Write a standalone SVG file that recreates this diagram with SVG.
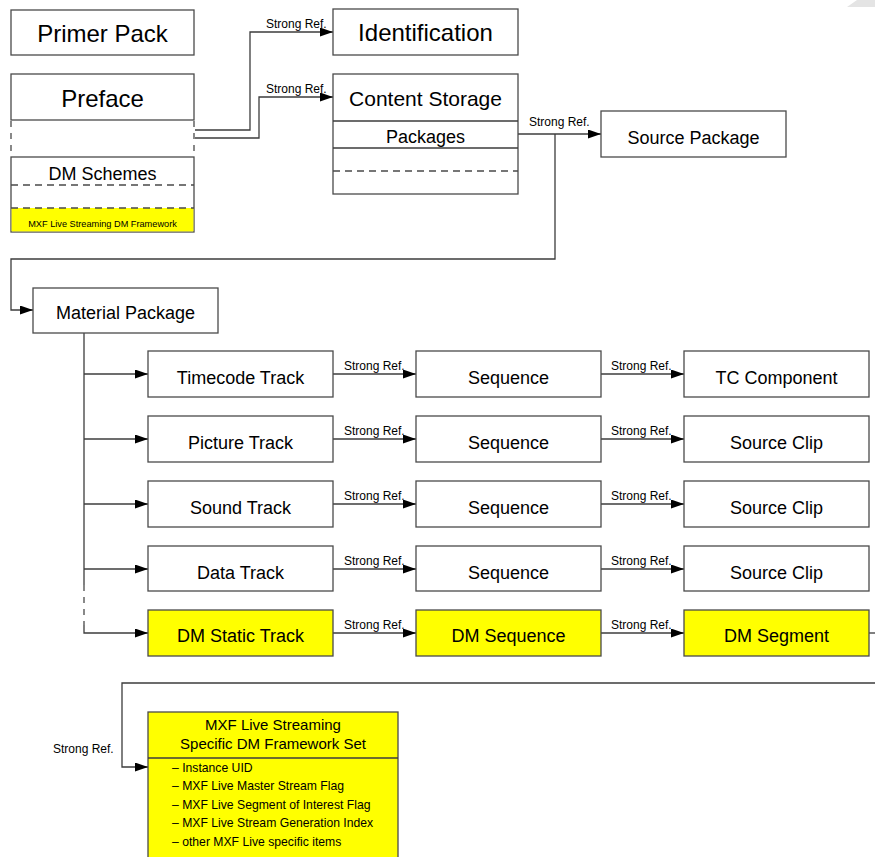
<svg xmlns="http://www.w3.org/2000/svg" width="875" height="857" viewBox="0 0 875 857">
<style>
text{font-family:"Liberation Sans",Arial,Helvetica,sans-serif;fill:#000}
.box{fill:#fff;stroke:#4a4a4a;stroke-width:1.3}
.y{fill:#ffff00}
.ln{fill:none;stroke:#3c3c3c;stroke-width:1.3}
.dash{fill:none;stroke:#4a4a4a;stroke-width:1.3;stroke-dasharray:7 5}
.arr{marker-end:url(#ah)}
.big{font-size:24px;text-anchor:middle}
.mid{font-size:18px;text-anchor:middle}
.ref{font-size:12px}
.item{font-size:12.2px}
</style>
<defs>
<marker id="ah" markerUnits="userSpaceOnUse" markerWidth="14" markerHeight="10" refX="13" refY="4.5" orient="auto">
<path d="M0,0 L13,4.5 L0,9 z" fill="#000"/>
</marker>
</defs>
<polygon points="857,0 875,0 875,7 847,7" fill="#e4e4e4"/>

<g id="connectors">
<path class="ln arr" d="M195,130 H250 V32 H333"/>
<path class="ln arr" d="M195,138 H259 V97 H333"/>
<path class="ln arr" d="M518,134 H601"/>
<path class="ln arr" d="M555,134 V259 H11 V310 H33"/>
<path class="ln" d="M84,333 V585"/>
<path class="dash" d="M84,585 V625" style="stroke-dasharray:6 6"/>
<path class="ln arr" d="M84,625 V633 H148"/>
<path class="ln arr" d="M84,374 H148"/>
<path class="ln arr" d="M84,439 H148"/>
<path class="ln arr" d="M84,504 H148"/>
<path class="ln arr" d="M84,569 H148"/>
<path class="ln arr" d="M333,374 H416"/>
<path class="ln arr" d="M601,374 H684"/>
<path class="ln arr" d="M333,439 H416"/>
<path class="ln arr" d="M601,439 H684"/>
<path class="ln arr" d="M333,504 H416"/>
<path class="ln arr" d="M601,504 H684"/>
<path class="ln arr" d="M333,569 H416"/>
<path class="ln arr" d="M601,569 H684"/>
<path class="ln arr" d="M333,633 H416"/>
<path class="ln arr" d="M601,633 H684"/>
<path class="ln" d="M869,633 H875"/>
<path class="ln arr" d="M875,683 H122 V767 H148"/>
<text class="ref" x="266" y="28">Strong Ref.</text>
<text class="ref" x="266" y="93">Strong Ref.</text>
<text class="ref" x="529" y="126">Strong Ref.</text>
<text class="ref" x="344" y="370">Strong Ref.</text>
<text class="ref" x="611" y="370">Strong Ref.</text>
<text class="ref" x="344" y="435">Strong Ref.</text>
<text class="ref" x="611" y="435">Strong Ref.</text>
<text class="ref" x="344" y="500">Strong Ref.</text>
<text class="ref" x="611" y="500">Strong Ref.</text>
<text class="ref" x="344" y="565">Strong Ref.</text>
<text class="ref" x="611" y="565">Strong Ref.</text>
<text class="ref" x="344" y="629">Strong Ref.</text>
<text class="ref" x="611" y="629">Strong Ref.</text>
<text class="ref" x="53" y="753">Strong Ref.</text>
</g>

<g id="primer-pack">
<rect class="box" x="11" y="10" width="183" height="45"/>
<text class="big" x="102.5" y="42">Primer Pack</text>
</g>

<g id="preface">
<rect class="box" x="11" y="74" width="183" height="46"/>
<text class="big" x="102.5" y="107">Preface</text>
<path class="dash" d="M11,121 V157 M194,121 V157" style="stroke-dasharray:6 6"/>
<rect class="box" x="11" y="157" width="183" height="75"/>
<rect class="y" x="11.6" y="208" width="181.8" height="23.4"/>
<path class="dash" d="M11,185 H194 M11,208 H194"/>
<text class="mid" x="102.5" y="180">DM Schemes</text>
<text x="102.5" y="227" style="font-size:9.2px;text-anchor:middle">MXF Live Streaming DM Framework</text>
</g>

<g id="identification">
<rect class="box" x="333" y="9" width="185" height="46"/>
<text class="big" x="425.5" y="41">Identification</text>
</g>

<g id="content-storage">
<rect class="box" x="333" y="74" width="185" height="120"/>
<path class="ln" d="M333,121 H518 M333,148 H518"/>
<path class="dash" d="M333,171 H518"/>
<text x="425.5" y="106" style="font-size:21px;text-anchor:middle">Content Storage</text>
<text class="mid" x="425.5" y="143">Packages</text>
</g>

<g id="source-package">
<rect class="box" x="601" y="111" width="185" height="46"/>
<text class="mid" x="693.5" y="144">Source Package</text>
</g>

<g id="material-package">
<rect class="box" x="33" y="288" width="185" height="45"/>
<text class="mid" x="125.5" y="319">Material Package</text>
</g>

<g id="timecode-track"><rect class="box" x="148" y="351" width="185" height="46"/><text class="mid" x="240.5" y="384">Timecode Track</text></g>
<g id="sequence-1"><rect class="box" x="416" y="351" width="185" height="46"/><text class="mid" x="508.5" y="384">Sequence</text></g>
<g id="tc-component"><rect class="box" x="684" y="351" width="185" height="46"/><text class="mid" x="776.5" y="384">TC Component</text></g>

<g id="picture-track"><rect class="box" x="148" y="416" width="185" height="46"/><text class="mid" x="240.5" y="449">Picture Track</text></g>
<g id="sequence-2"><rect class="box" x="416" y="416" width="185" height="46"/><text class="mid" x="508.5" y="449">Sequence</text></g>
<g id="source-clip-1"><rect class="box" x="684" y="416" width="185" height="46"/><text class="mid" x="776.5" y="449">Source Clip</text></g>

<g id="sound-track"><rect class="box" x="148" y="481" width="185" height="46"/><text class="mid" x="240.5" y="514">Sound Track</text></g>
<g id="sequence-3"><rect class="box" x="416" y="481" width="185" height="46"/><text class="mid" x="508.5" y="514">Sequence</text></g>
<g id="source-clip-2"><rect class="box" x="684" y="481" width="185" height="46"/><text class="mid" x="776.5" y="514">Source Clip</text></g>

<g id="data-track"><rect class="box" x="148" y="546" width="185" height="45"/><text class="mid" x="240.5" y="579">Data Track</text></g>
<g id="sequence-4"><rect class="box" x="416" y="546" width="185" height="45"/><text class="mid" x="508.5" y="579">Sequence</text></g>
<g id="source-clip-3"><rect class="box" x="684" y="546" width="185" height="45"/><text class="mid" x="776.5" y="579">Source Clip</text></g>

<g id="dm-static-track"><rect class="box y" x="148" y="610" width="185" height="46" style="fill:#ffff00"/><text class="mid" x="240.5" y="642">DM Static Track</text></g>
<g id="dm-sequence"><rect class="box" x="416" y="610" width="185" height="46" style="fill:#ffff00"/><text class="mid" x="508.5" y="642">DM Sequence</text></g>
<g id="dm-segment"><rect class="box" x="684" y="610" width="185" height="46" style="fill:#ffff00"/><text class="mid" x="776.5" y="642">DM Segment</text></g>

<g id="framework-set">
<rect class="box" x="148" y="712" width="250" height="160" style="fill:#ffff00"/>
<path class="ln" d="M148,758 H398"/>
<text x="273" y="730" style="font-size:15px;text-anchor:middle">MXF Live Streaming</text>
<text x="273" y="749" style="font-size:15px;text-anchor:middle">Specific DM Framework Set</text>
<text class="item" x="172" y="772">– Instance UID</text>
<text class="item" x="172" y="790">– MXF Live Master Stream Flag</text>
<text class="item" x="172" y="809">– MXF Live Segment of Interest Flag</text>
<text class="item" x="172" y="827">– MXF Live Stream Generation Index</text>
<text class="item" x="172" y="846">– other MXF Live specific items</text>
</g>
</svg>
